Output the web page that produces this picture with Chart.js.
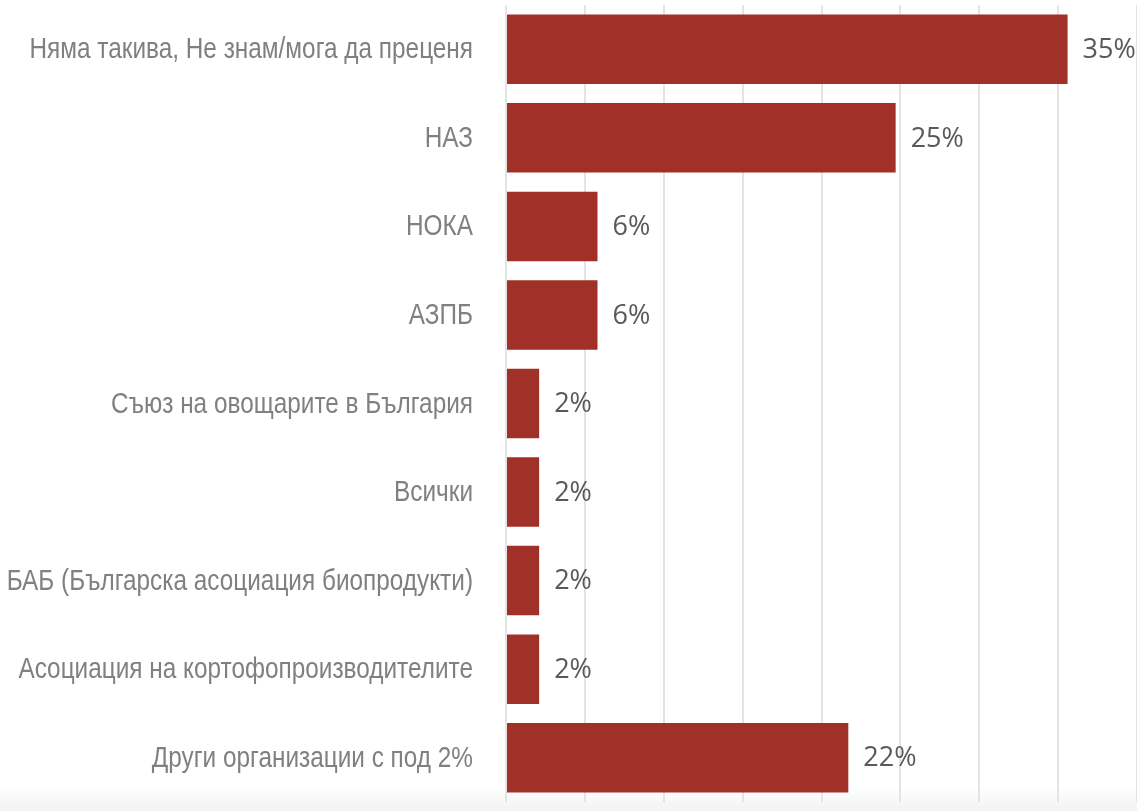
<!DOCTYPE html>
<html>
<head>
<meta charset="utf-8">
<script src="https://cdn.jsdelivr.net/npm/chart.js@4.4.1/dist/chart.umd.min.js"></script>
<style>
  html, body { margin: 0; padding: 0; background: #fff; }
  #wrap { position: relative; width: 1137px; height: 811px; }
  #shade { position: absolute; left: 0; right: 0; bottom: 0; height: 24px;
           background: linear-gradient(to bottom, rgba(240,241,242,0), rgba(238,240,242,0.85)); }
  canvas { position: absolute; left: 0; top: 0; }
</style>
</head>
<body>
<div id="wrap">
  <div id="shade"></div>
  <canvas id="orgChart" width="1137" height="811"></canvas>
</div>
<script>
const categories = [
    'Няма такива, Не знам/мога да преценя',
    'НАЗ',
    'НОКА',
    'АЗПБ',
    'Съюз на овощарите в България',
    'Всички',
    'БАБ (Българска асоциация биопродукти)',
    'Асоциация на кортофопроизводителите',
    'Други организации с под 2%'
];
const shares = [35.6, 24.7, 5.8, 5.8, 2.1, 2.1, 2.1, 2.1, 21.7];
const shareLabels = ['35%', '25%', '6%', '6%', '2%', '2%', '2%', '2%', '22%'];
const axisMax = 40;
const axisStep = 5;

const ctx = document.getElementById('orgChart').getContext('2d');

new Chart(ctx, {
    type: 'bar',
    data: {
        labels: categories,
        datasets: [{
            data: shares,
            backgroundColor: '#a13128',
            borderWidth: 0,
            categoryPercentage: 1,
            barPercentage: 0.785
        }]
    },
    options: {
        indexAxis: 'y',
        responsive: false,
        animation: false,
        layout: { padding: { top: 5, bottom: 9, left: 0, right: 0 } },
        plugins: {
            legend: { display: false },
            tooltip: { enabled: false }
        },
        scales: {
            x: {
                min: 0,
                max: axisMax,
                ticks: { display: false, stepSize: axisStep },
                grid: { color: '#e4e4e4', lineWidth: 2, drawTicks: false },
                border: { display: false }
            },
            y: {
                grid: { display: false, drawTicks: false },
                border: { display: false },
                // labels are drawn by the plugin below (narrow face)
                ticks: { display: false },
                afterFit(scale) { scale.width = 506; }
            }
        }
    },
    plugins: [{
        id: 'labelsAndValues',
        afterDatasetsDraw(chart) {
            const { ctx } = chart;
            const yScale = chart.scales.y;
            ctx.save();

            // category labels, squeezed to look like Arial Narrow
            ctx.fillStyle = '#808080';
            ctx.font = "29px 'Liberation Sans', Arial, sans-serif";
            ctx.textAlign = 'right';
            ctx.textBaseline = 'middle';
            categories.forEach((name, i) => {
                const y = yScale.getPixelForTick(i);
                ctx.save();
                ctx.translate(chart.chartArea.left - 33, y + 1);
                ctx.scale(0.84, 1);
                ctx.fillText(name, 0, 0);
                ctx.restore();
            });

            // value labels at the bar ends
            ctx.fillStyle = '#595959';
            ctx.font = "27px 'Open Sans', sans-serif";
            ctx.textAlign = 'left';
            ctx.textBaseline = 'middle';
            chart.getDatasetMeta(0).data.forEach((bar, i) => {
                ctx.fillText(shareLabels[i], bar.x + 15, bar.y + 1);
            });
            ctx.restore();
        }
    }]
});
</script>
</body>
</html>
